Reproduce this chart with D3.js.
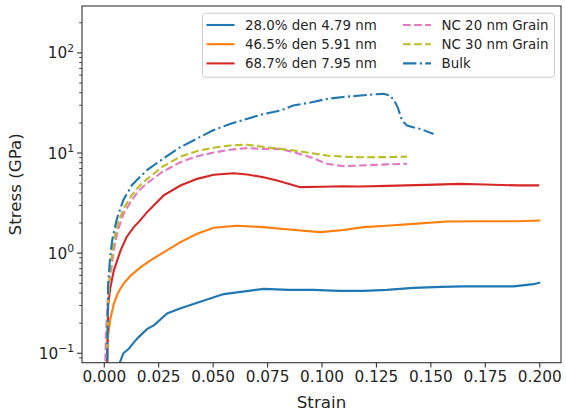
<!DOCTYPE html>
<html>
<head>
<meta charset="utf-8">
<script src="https://cdn.jsdelivr.net/npm/d3@7"></script>
<style>
  body { margin: 0; background: #fff; }
  text { font-family: "DejaVu Sans", sans-serif; fill: #262626; }
</style>
</head>
<body>
<svg width="566" height="420"></svg>
<script>
// data
const bluStrain = [0.0068, 0.009, 0.0115, 0.014, 0.016, 0.02, 0.023, 0.0291, 0.035, 0.0429, 0.0551, 0.063, 0.0734, 0.085, 0.0964, 0.108, 0.1193, 0.13, 0.1423, 0.155, 0.165, 0.1882, 0.1974, 0.2005];
const bluStress = [0.075, 0.1, 0.111, 0.13, 0.145, 0.175, 0.19, 0.25, 0.28, 0.32, 0.39, 0.41, 0.44, 0.43, 0.43, 0.42, 0.42, 0.43, 0.45, 0.46, 0.466, 0.466, 0.49, 0.51];

const orgStrain = [0.001, 0.0016, 0.003, 0.0046, 0.0065, 0.0092, 0.0125, 0.0168, 0.022, 0.0275, 0.0352, 0.0429, 0.0505, 0.0612, 0.0734, 0.085, 0.0995, 0.11, 0.1193, 0.13, 0.1423, 0.1576, 0.173, 0.19, 0.2005];
const orgStress = [0.05, 0.13, 0.22, 0.31, 0.4, 0.5, 0.6, 0.72, 0.86, 1.02, 1.29, 1.56, 1.79, 1.88, 1.82, 1.72, 1.62, 1.7, 1.82, 1.88, 1.96, 2.07, 2.08, 2.08, 2.12];

const redStrain = [0.0015, 0.002, 0.003, 0.0046, 0.0077, 0.0105, 0.0138, 0.0165, 0.0199, 0.0275, 0.0352, 0.0429, 0.0505, 0.0597, 0.0658, 0.0734, 0.0796, 0.0903, 0.1, 0.11, 0.1178, 0.13, 0.148, 0.1637, 0.175, 0.19, 0.2];
const redStress = [0.05, 0.3, 0.45, 0.67, 1.06, 1.45, 1.82, 2.1, 2.57, 3.77, 4.74, 5.52, 6.06, 6.28, 6.1, 5.73, 5.32, 4.56, 4.6, 4.65, 4.63, 4.7, 4.81, 4.92, 4.85, 4.75, 4.75];

const nc20Strain = [0.0005, 0.001, 0.002, 0.003, 0.005, 0.0065, 0.0092, 0.0125, 0.016, 0.0199, 0.027, 0.0352, 0.043, 0.0505, 0.058, 0.0658, 0.072, 0.081, 0.0872, 0.0949, 0.1025, 0.11, 0.1178, 0.13, 0.1393];
const nc20Stress = [0.05, 0.15, 0.4, 0.6, 1.2, 1.7, 2.5, 3.3, 4.2, 5.0, 6.5, 8.1, 9.3, 10.1, 10.8, 11.2, 11.0, 11.0, 10.2, 9.1, 7.8, 7.4, 7.5, 7.7, 7.8];

const nc30Strain = [0.0015, 0.002, 0.003, 0.0046, 0.0065, 0.0092, 0.0125, 0.016, 0.0199, 0.027, 0.0352, 0.043, 0.0505, 0.058, 0.0658, 0.072, 0.081, 0.0872, 0.095, 0.1025, 0.11, 0.1178, 0.13, 0.1393];
const nc30Stress = [0.05, 0.35, 0.7, 1.3, 2.0, 2.8, 3.7, 4.6, 5.5, 7.3, 9.2, 10.5, 11.3, 11.9, 12.1, 11.6, 11.0, 10.6, 10.0, 9.44, 9.2, 9.08, 9.1, 9.2];

const bulkStrain = [0.0015, 0.002, 0.003, 0.004, 0.006, 0.009, 0.013, 0.016, 0.02, 0.028, 0.035, 0.043, 0.05, 0.058, 0.066, 0.072, 0.081, 0.087, 0.095, 0.1025, 0.11, 0.118, 0.124, 0.1285, 0.1315, 0.1335, 0.135, 0.137, 0.1393, 0.1425, 0.1454, 0.1515];
const bulkStress = [0.05, 0.5, 0.95, 1.4, 2.2, 3.4, 4.8, 5.6, 6.8, 9.0, 11.4, 14.0, 16.8, 19.5, 22.0, 24.1, 26.5, 29.8, 32.0, 34.7, 36.3, 37.5, 38.5, 39.0, 37.5, 33, 28.6, 21.1, 18.8, 18, 17.4, 15.5];

const labels = ["28.0% den 4.79 nm", "46.5% den 5.91 nm", "68.7% den 7.95 nm", "NC 20 nm Grain", "NC 30 nm Grain", "Bulk"];
const xTicks = [0, 0.025, 0.05, 0.075, 0.1, 0.125, 0.15, 0.175, 0.2];
const yTicks = [0.1, 1, 10, 100];

const series = [
  { name: labels[0], xs: bluStrain, ys: bluStress, color: "#1f77b4", dash: null },
  { name: labels[1], xs: orgStrain, ys: orgStress, color: "#ff7f0e", dash: null },
  { name: labels[2], xs: redStrain, ys: redStress, color: "#d62728", dash: null },
  { name: labels[3], xs: nc20Strain, ys: nc20Stress, color: "#e377c2", dash: "7.7,3.4" },
  { name: labels[4], xs: nc30Strain, ys: nc30Stress, color: "#bcbd22", dash: "7.7,3.4" },
  { name: labels[5], xs: bulkStrain, ys: bulkStress, color: "#1f77b4", dash: "13.4,3.4,2.1,3.4" },
];

const svg = d3.select("svg");
const mLeft = 82, mRight = 561, mTop = 6, mBottom = 362.7;

const x = d3.scaleLinear().domain([-0.01, 0.21]).range([mLeft, mRight]);
const y = d3.scaleLog().domain([0.0805, 294]).range([mBottom, mTop]);

svg.append("clipPath").attr("id", "clip")
  .append("rect")
  .attr("x", mLeft).attr("y", mTop)
  .attr("width", mRight - mLeft).attr("height", mBottom - mTop);

const line = d3.line()
  .x((d) => x(d[0]))
  .y((d) => y(d[1]));

const plot = svg.append("g").attr("clip-path", "url(#clip)");
series.forEach((s) => {
  plot.append("path")
    .datum(s.xs.map((v, i) => [v, s.ys[i]]))
    .attr("fill", "none")
    .attr("stroke", s.color)
    .attr("stroke-width", 2.1)
    .attr("stroke-dasharray", s.dash)
    .attr("d", line);
});

// x axis
const xAxis = svg.append("g")
  .attr("transform", `translate(0,${mBottom})`)
  .call(d3.axisBottom(x).tickValues(xTicks).tickFormat(d3.format(".3f")).tickSize(4.9).tickPadding(4));
xAxis.select(".domain").remove();
xAxis.selectAll("line").attr("stroke", "#333").attr("stroke-width", 1.1);
xAxis.selectAll("text").attr("font-size", 15.3).attr("fill", "#262626");

// y axis: major ticks with 10^n labels, minor ticks between
const minor = [];
d3.range(-2, 3).forEach((e) => {
  d3.range(2, 10).forEach((m) => minor.push(m * Math.pow(10, e)));
});
const yg = svg.append("g");
yg.selectAll(".minor")
  .data(minor.filter((v) => v >= 0.0805 && v <= 294))
  .join("line")
  .attr("x1", mLeft - 2.8).attr("x2", mLeft)
  .attr("y1", (d) => y(d)).attr("y2", (d) => y(d))
  .attr("stroke", "#333").attr("stroke-width", 0.9);
yg.selectAll(".major")
  .data(yTicks)
  .join("line")
  .attr("x1", mLeft - 4.9).attr("x2", mLeft)
  .attr("y1", (d) => y(d)).attr("y2", (d) => y(d))
  .attr("stroke", "#333").attr("stroke-width", 1.1);
const yl = yg.selectAll(".lab")
  .data(yTicks)
  .join("text")
  .attr("x", mLeft - 8)
  .attr("y", (d) => y(d) + 5.5)
  .attr("text-anchor", "end")
  .attr("font-size", 15.3);
yl.append("tspan").text("10");
yl.append("tspan")
  .attr("dy", -6.5)
  .attr("font-size", 10.7)
  .text((d) => String(Math.round(Math.log10(d))).replace("-", "\u2212"));

// frame
svg.append("rect")
  .attr("x", mLeft).attr("y", mTop)
  .attr("width", mRight - mLeft).attr("height", mBottom - mTop)
  .attr("fill", "none").attr("stroke", "#333").attr("stroke-width", 1.1);

svg.append("text")
  .attr("x", (mLeft + mRight) / 2).attr("y", 408)
  .attr("text-anchor", "middle").attr("font-size", 16.7)
  .text("Strain");
svg.append("text")
  .attr("transform", `translate(21,${(mTop + mBottom) / 2}) rotate(-90)`)
  .attr("text-anchor", "middle").attr("font-size", 16.7)
  .text("Stress (GPa)");

// legend
const legend = svg.append("g");
legend.append("rect")
  .attr("x", 202.5).attr("y", 13.3)
  .attr("width", 352).attr("height", 64)
  .attr("rx", 3)
  .attr("fill", "#fff").attr("fill-opacity", 0.8)
  .attr("stroke", "#ccc").attr("stroke-width", 1);
const items = legend.selectAll(".item")
  .data(series)
  .join("g")
  .attr("transform", (d, i) => `translate(${i < 3 ? 206.5 : 403}, ${25 + (i % 3) * 19.2})`);
items.append("line")
  .attr("x1", 0).attr("x2", 28)
  .attr("stroke", (d) => d.color)
  .attr("stroke-width", 2.1)
  .attr("stroke-dasharray", (d) => d.dash);
items.append("text")
  .attr("x", 38.5).attr("y", 4.8)
  .attr("font-size", 13.4)
  .text((d) => d.name);
</script>
</body>
</html>
